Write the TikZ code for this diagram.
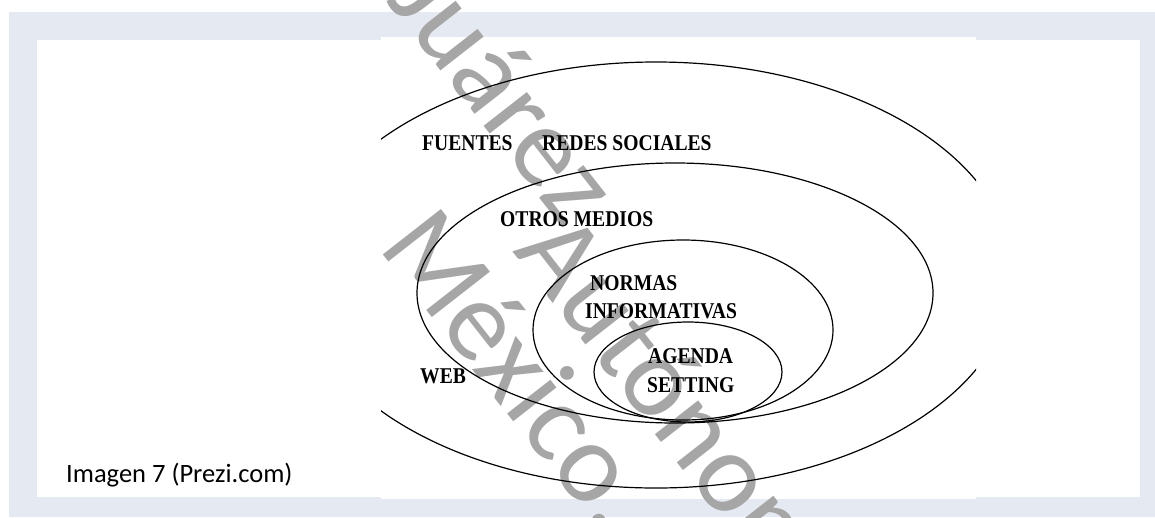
\documentclass[tikz,border=0pt]{standalone}
\usepackage{fontspec}
\usetikzlibrary{shapes.geometric}
\newfontfamily\tnrfont{Liberation Serif}
\newfontfamily\calibrifont{Carlito}
\definecolor{framebg}{RGB}{229,234,242}
\definecolor{wmgray}{RGB}{166,166,166}
\newcommand{\tallbox}[1]{\scalebox{1}[1.15]{#1}}
\tikzset{
  ring/.style={draw=black, line width=1.2pt, ellipse, inner sep=0pt, fill=none},
  lbl/.style={anchor=base west, inner sep=0pt, font=\tnrfont\bfseries\fontsize{19.6}{22}\selectfont},
  wm/.style={inner sep=0pt, rotate=-52, text=wmgray, font=\calibrifont\fontsize{115}{115}\selectfont},
  caption/.style={anchor=base west, inner sep=0pt, font=\calibrifont\fontsize{26.5}{30}\selectfont}
}
\begin{document}
\begin{tikzpicture}[x=1pt,y=-1pt]
\useasboundingbox (0,0) rectangle (1155,517);
\fill[white] (0,0) rectangle (1155,517);
\fill[framebg] (9,12) rectangle (1155,517);
\fill[white] (37,40) rectangle (1140,497);
\fill[white] (381,37) rectangle (976,499);
% watermark
\begin{scope}
\clip (0,0) rectangle (1155,517);
\node[wm, anchor=base east] (wm0) at (566,231) {Universidad Juárez};
\node[wm, anchor=base west] (wm1) at (512,251) {Autónoma de Tabasco};
\node[wm, anchor=base west] (wm2) at (377,247) {México.};
\end{scope}
% rings
\begin{scope}
\clip (381,37) rectangle (976,499);
\node[ring, minimum width=714pt, minimum height=426pt] (e1) at (656,275) {};
\node[ring, minimum width=516pt, minimum height=260pt] (e2) at (675,293) {};
\node[ring, minimum width=300pt, minimum height=180pt] (e3) at (683,330) {};
\node[ring, minimum width=188pt, minimum height=100pt] (e4) at (688,372) {};
\end{scope}
% labels
\node[lbl] (fuentes) at (422,150) {\tallbox{FUENTES}};
\node[lbl] (redes) at (542,150) {\tallbox{REDES SOCIALES}};
\node[lbl] (otros) at (500,226) {\tallbox{OTROS MEDIOS}};
\node[lbl] (normas) at (590,290) {\tallbox{NORMAS}};
\node[lbl] (informativas) at (585,318) {\tallbox{INFORMATIVAS}};
\node[lbl] (agenda) at (648,363) {\tallbox{AGENDA}};
\node[lbl] (setting) at (647,392) {\tallbox{SETTING}};
\node[lbl] (web) at (420,383) {\tallbox{WEB}};
\node[caption] (cap) at (66,482) {Imagen 7 (Prezi.com)};
\end{tikzpicture}
\end{document}
